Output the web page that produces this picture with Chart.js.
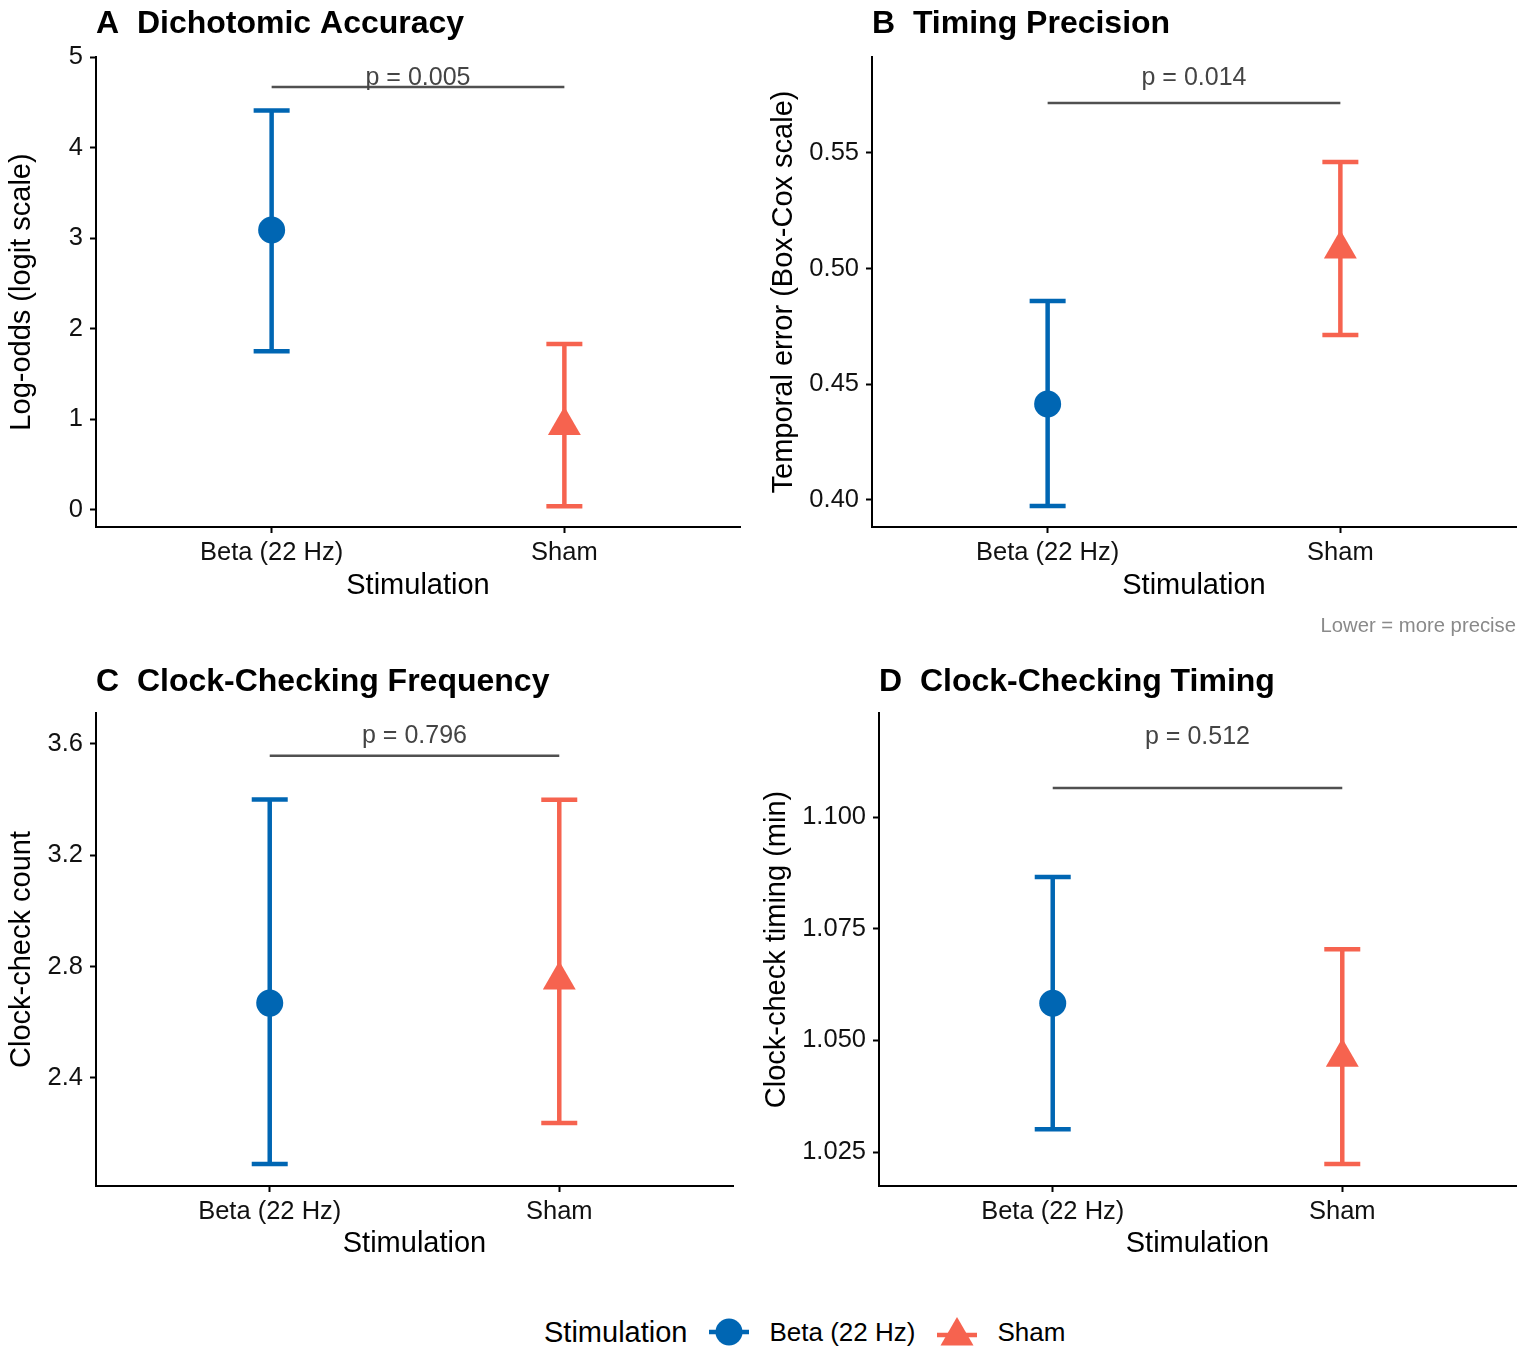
<!DOCTYPE html>
<html>
<head>
<meta charset="utf-8">
<script src="https://cdn.jsdelivr.net/npm/chart.js@4.4.1/dist/chart.umd.min.js"></script>
<style>
  body { margin: 0; background: #fff; font-family: "Liberation Sans", Arial, sans-serif; }
  #page { position: relative; width: 1526px; height: 1356px; }
  canvas { position: absolute; }
  #caption { position: absolute; right: 10px; top: 613px; font-size: 20.3px; line-height: 24px; color: #8a8a8a; }
  #legend { position: absolute; left: 544px; top: 1312px; height: 40px; display: flex; align-items: center; color: #000; }
  #legend .lbl { font-size: 26px; }
  #legend .ttl { font-size: 29px; margin-right: 22px; }
  #legend svg { display: block; margin-right: 20px; }
</style>
</head>
<body>
<div id="page">
  <canvas id="panelA" width="760" height="645" style="left:0;top:0"></canvas>
  <canvas id="panelB" width="766" height="645" style="left:760px;top:0"></canvas>
  <canvas id="panelC" width="760" height="615" style="left:0;top:655px"></canvas>
  <canvas id="panelD" width="766" height="615" style="left:760px;top:655px"></canvas>
  <div id="caption">Lower = more precise</div>
  <div id="legend">
    <span class="ttl">Stimulation</span>
    <svg width="40" height="34" viewBox="0 0 40 34"><line x1="0" y1="17" x2="40" y2="17" stroke="#0066B3" stroke-width="4.5"/><circle cx="20" cy="17" r="13.5" fill="#0066B3"/></svg>
    <span class="lbl" style="margin-right:22px">Beta (22 Hz)</span>
    <svg width="40" height="34" viewBox="0 0 40 34"><line x1="0" y1="20" x2="40" y2="20" stroke="#F6634F" stroke-width="4.5"/><polygon points="20,2 36.5,30.5 3.5,30.5" fill="#F6634F"/></svg>
    <span class="lbl">Sham</span>
  </div>
</div>
<script>
// ---- data ----
const groups = ['Beta (22 Hz)', 'Sham'];
const groupColors = ['#0066B3', '#F6634F'];

// A: dichotomic accuracy (log-odds)
const accEstimate = [3.09, 0.93];
const accLower = [1.75, 0.04];
const accUpper = [4.41, 1.83];
const accTicks = [0, 1, 2, 3, 4, 5];

// B: timing precision (Box-Cox)
const precEstimate = [0.4415, 0.5085];
const precLower = [0.3974, 0.4713];
const precUpper = [0.486, 0.5461];
const precTicks = [0.40, 0.45, 0.50, 0.55];

// C: clock-checking frequency
const freqEstimate = [2.669, 2.752];
const freqLower = [2.091, 2.238];
const freqUpper = [3.400, 3.399];
const freqTicks = [2.4, 2.8, 3.2, 3.6];

// D: clock-checking timing (min)
const timeEstimate = [1.0583, 1.0462];
const timeLower = [1.0301, 1.0223];
const timeUpper = [1.0866, 1.0704];
const timeTicks = [1.025, 1.050, 1.075, 1.100];

// comparison brackets
const pLabels = ['p = 0.005', 'p = 0.014', 'p = 0.796', 'p = 0.512'];
const bracketY = [4.67, 0.5716, 3.557, 1.1065];
const pLabelY = [4.77, 0.5824, 3.629, 1.118];

const FONT = '"Liberation Sans", Arial, sans-serif';

// panel letter + title, left aligned with the plot area
const panelTitle = {
    id: 'panelTitle',
    afterDraw(chart, args, opts) {
        const ctx = chart.ctx;
        ctx.save();
        ctx.font = 'bold 32px ' + FONT;
        ctx.fillStyle = '#000';
        ctx.textAlign = 'left';
        ctx.textBaseline = 'middle';
        ctx.fillText(opts.text, chart.chartArea.left, chart.chartArea.top - opts.offset);
        ctx.restore();
    }
};

// p-value text above the bracket
const pLabel = {
    id: 'pLabel',
    afterDatasetsDraw(chart, args, opts) {
        const ctx = chart.ctx;
        const x = chart.scales.x.getPixelForValue(1.5);
        const y = chart.scales.y.getPixelForValue(opts.y);
        ctx.save();
        ctx.font = '25px ' + FONT;
        ctx.fillStyle = '#444';
        ctx.textAlign = 'center';
        ctx.textBaseline = 'middle';
        ctx.fillText(opts.text, x, y);
        ctx.restore();
    }
};

function makePanel(id, p) {
    const datasets = [];
    groups.forEach((g, i) => {
        datasets.push({
            label: g,
            data: [{ x: i + 1, y: p.estimate[i] }],
            pointStyle: i === 0 ? 'circle' : 'triangle',
            pointRadius: i === 0 ? 13.5 : 19,
            pointHoverRadius: i === 0 ? 13.5 : 19,
            pointBackgroundColor: groupColors[i],
            pointBorderWidth: 0,
            order: 0
        });
        datasets.push({
            label: g + ' CI',
            data: [{ x: i + 1, y: p.lower[i] }, { x: i + 1, y: p.upper[i] }],
            showLine: true,
            borderColor: groupColors[i],
            borderWidth: 4.5,
            pointStyle: 'line',
            pointRadius: 18,
            pointHoverRadius: 18,
            pointBorderColor: groupColors[i],
            pointBorderWidth: 4.5,
            order: 1
        });
    });
    datasets.push({
        label: 'bracket',
        data: [{ x: 1, y: p.bracket }, { x: 2, y: p.bracket }],
        showLine: true,
        borderColor: '#505050',
        borderWidth: 2.5,
        pointRadius: 0,
        order: 2
    });

    const axisCommon = {
        border: { display: true, color: '#000', width: 2 },
        grid: { display: true, drawOnChartArea: false, drawTicks: true, tickLength: 6, tickColor: '#000', tickWidth: 2, color: '#000' }
    };

    return new Chart(document.getElementById(id), {
        type: 'scatter',
        data: { datasets: datasets },
        options: {
            responsive: false,
            animation: false,
            layout: { padding: p.padding, autoPadding: false },
            plugins: {
                legend: { display: false },
                tooltip: { enabled: false },
                panelTitle: { text: p.title, offset: p.titleOffset },
                pLabel: { text: p.pText, y: p.pY }
            },
            scales: {
                x: {
                    ...axisCommon,
                    type: 'linear',
                    min: 0.4,
                    max: 2.6,
                    afterBuildTicks: axis => { axis.ticks = [{ value: 1 }, { value: 2 }]; },
                    afterFit: axis => { axis.height = p.xAxisHeight; },
                    ticks: {
                        padding: 4.5,
                        maxRotation: 0,
                        color: '#111',
                        font: { size: 25.5, family: FONT },
                        callback: v => groups[v - 1]
                    },
                    title: {
                        display: true,
                        text: 'Stimulation',
                        color: '#000',
                        font: { size: 29, family: FONT },
                        padding: { top: 0, bottom: 0 }
                    }
                },
                y: {
                    ...axisCommon,
                    type: 'linear',
                    min: p.min,
                    max: p.max,
                    afterBuildTicks: axis => { axis.ticks = p.ticks.map(v => ({ value: v })); },
                    afterFit: axis => { axis.width = p.axisWidth; },
                    ticks: {
                        padding: 7,
                        color: '#111',
                        font: { size: 25.5, family: FONT },
                        callback: v => v.toFixed(p.decimals)
                    },
                    title: {
                        display: true,
                        text: p.yTitle,
                        color: '#000',
                        font: { size: 29, family: FONT },
                        padding: { top: p.yTitlePad, bottom: 0 }
                    }
                }
            }
        },
        plugins: [panelTitle, pLabel]
    });
}

makePanel('panelA', {
    title: 'A  Dichotomic Accuracy', yTitle: 'Log-odds (logit scale)',
    estimate: accEstimate, lower: accLower, upper: accUpper, ticks: accTicks,
    min: -0.19, max: 5.0, decimals: 0,
    bracket: bracketY[0], pText: pLabels[0], pY: pLabelY[0],
    axisWidth: 96, yTitlePad: 4.6, titleOffset: 33, xAxisHeight: 76,
    padding: { top: 57, right: 20, bottom: 42, left: 0 }
});

makePanel('panelB', {
    title: 'B  Timing Precision', yTitle: 'Temporal error (Box-Cox scale)',
    estimate: precEstimate, lower: precLower, upper: precUpper, ticks: precTicks,
    min: 0.3883, max: 0.5915, decimals: 2,
    bracket: bracketY[1], pText: pLabels[1], pY: pLabelY[1],
    axisWidth: 112, yTitlePad: 6.6, titleOffset: 33, xAxisHeight: 76,
    padding: { top: 57, right: 10, bottom: 42, left: 0 }
});

makePanel('panelC', {
    title: 'C  Clock-Checking Frequency', yTitle: 'Clock-check count',
    estimate: freqEstimate, lower: freqLower, upper: freqUpper, ticks: freqTicks,
    min: 2.012, max: 3.711, decimals: 1,
    bracket: bracketY[2], pText: pLabels[2], pY: pLabelY[2],
    axisWidth: 96, yTitlePad: 4.6, titleOffset: 31, xAxisHeight: 75.5,
    padding: { top: 58, right: 27, bottom: 8.5, left: 0 }
});

makePanel('panelD', {
    title: 'D  Clock-Checking Timing', yTitle: 'Clock-check timing (min)',
    estimate: timeEstimate, lower: timeLower, upper: timeUpper, ticks: timeTicks,
    min: 1.0174, max: 1.1233, decimals: 3,
    bracket: bracketY[3], pText: pLabels[3], pY: pLabelY[3],
    axisWidth: 119, yTitlePad: 0, titleOffset: 31, xAxisHeight: 75.5,
    padding: { top: 58, right: 10, bottom: 8.5, left: 0 }
});
</script>
</body>
</html>
